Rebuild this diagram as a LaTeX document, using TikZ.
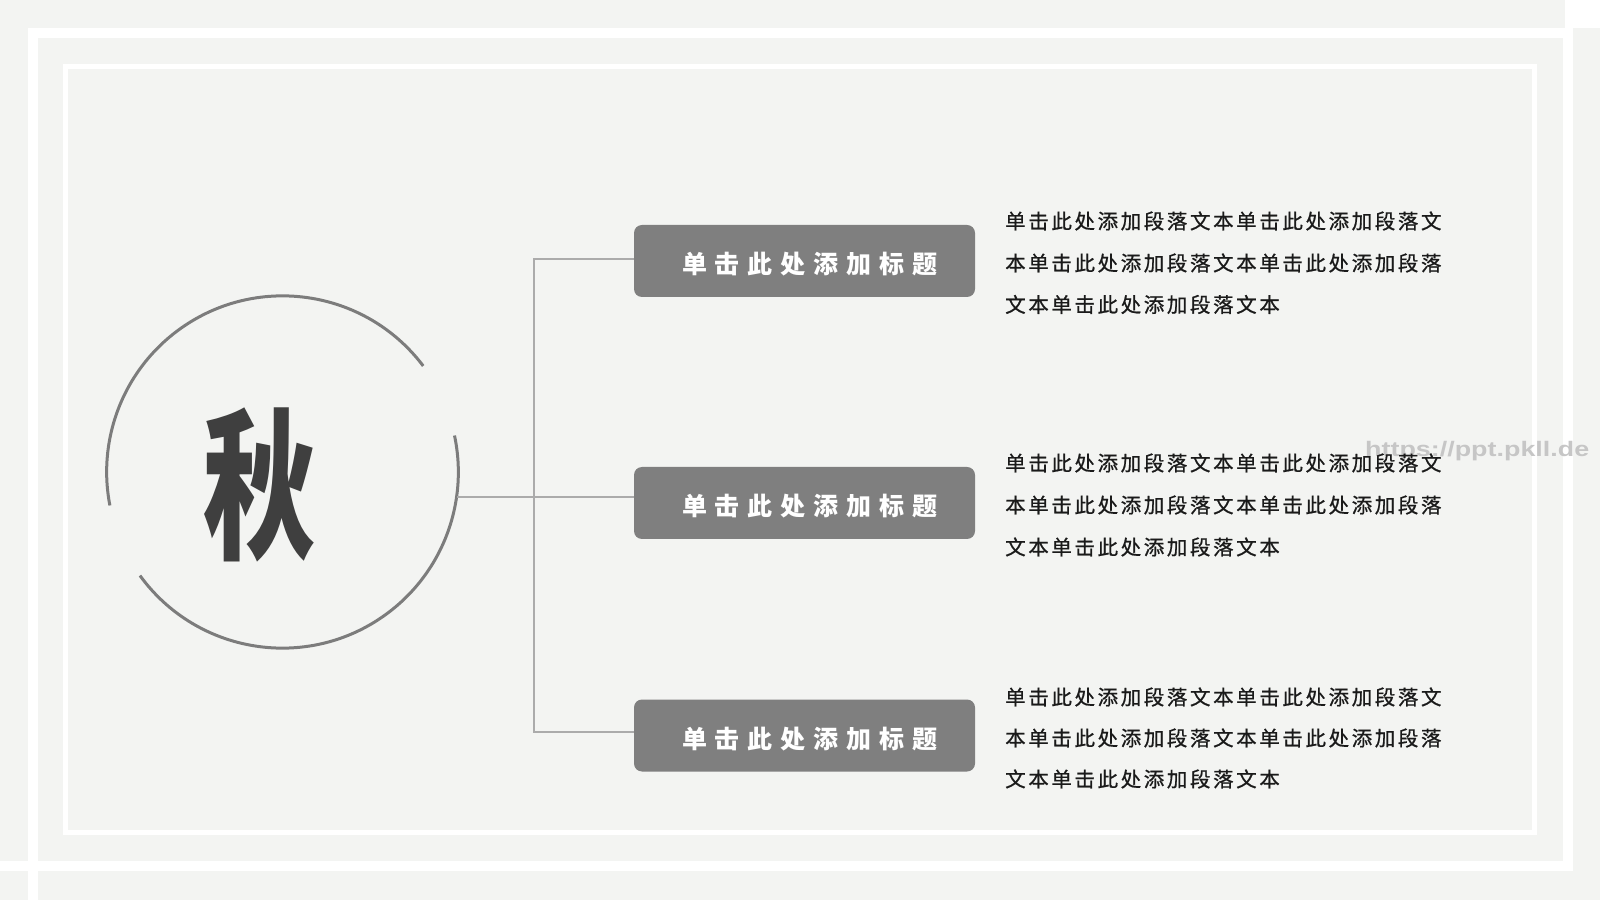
\documentclass[tikz,border=0pt]{standalone}
\usepackage{fontspec}
\usepackage{graphicx}
\newfontfamily\cjk{Noto Sans CJK SC}
\newfontfamily\cjkmed[FakeBold=0.8]{Noto Sans CJK SC}
\newfontfamily\wmfont{Liberation Sans}
\definecolor{bg}{HTML}{F3F4F2}
\definecolor{boxgray}{HTML}{7F7F7F}
\definecolor{ringgray}{HTML}{7C7C7C}
\definecolor{conngray}{HTML}{ABABAB}
\definecolor{glyphc}{HTML}{3F3F3F}
\definecolor{bodyc}{HTML}{1A1A1A}
\definecolor{wmc}{HTML}{C6C6C6}
\makeatletter
\newcommand\spacedtxt[2]{\@tfor\sp@c:=#2\do{\sp@c\hspace{#1}}\unskip}
\makeatother
\begin{document}
\begin{tikzpicture}[x=1pt,y=1pt,
  frameline/.style={draw=white,line width=10pt},
  innerframe/.style={draw=white,line width=5pt},
  ring/.style={draw=ringgray,line width=3pt},
  conn/.style={draw=conngray,line width=2pt},
  titlebox/.style={fill=boxgray,rounded corners=8pt,minimum width=341pt,minimum height=72pt,inner sep=0pt,text height=25pt,text depth=0pt,text=white,font=\cjk\bfseries\fontsize{25}{25}\selectfont},
  bodytext/.style={anchor=west,inner sep=0pt,text=bodyc,font=\cjkmed\fontsize{20.5}{20.5}\selectfont},
]
\useasboundingbox (0,0) rectangle (1600,900);
\fill[bg] (0,0) rectangle (1600,900);
% frames
\draw[frameline] (33,867) rectangle (1568,34.5);
\draw[frameline] (33,867) -- (33,0);
\draw[frameline] (1568,34.5) -- (0,34.5);
\fill[white] (1565,872) rectangle (1600,900);
\draw[innerframe] (65.5,833) rectangle (1534.5,68);
% watermark
\node[anchor=base west,inner sep=0pt,text=wmc,font=\wmfont\bfseries\fontsize{21}{21}\selectfont] (wm) at (1365,443) {\scalebox{1.28}[1]{https://ppt.pkll.de}};
% ring
\node[circle,minimum size=352pt,inner sep=0pt] (c) at (282.5,428) {};
\draw[ring] (c.37) arc[start angle=37,end angle=191,radius=176];
\draw[ring] (c.216) arc[start angle=216,end angle=372,radius=176];
\node[inner sep=0pt,text=glyphc,font=\cjk\bfseries\fontsize{163}{163}\selectfont] (qiu) at (260,415) {\scalebox{0.69}[1]{秋}};
% title boxes
\node[titlebox] (b1) at (804.5,639) {\hspace{11pt}\spacedtxt{8pt}{单击此处添加标题}};
\node[titlebox] (b2) at (804.5,397) {\hspace{11pt}\spacedtxt{8pt}{单击此处添加标题}};
\node[titlebox] (b3) at (804.5,164.5) {\hspace{11pt}\spacedtxt{8pt}{单击此处添加标题}};
% connectors
\coordinate (j) at (534,402.5);
\coordinate (t1) at ([yshift=2pt]b1.west);
\coordinate (t3) at ([yshift=3.8pt]b3.west);
\draw[conn] (c.-8.3) -- (c.-8.3 -| b2.west);
\draw[conn] (t1) -- (t1 -| j) -- (t3 -| j) -- (t3);
% body texts
\node[bodytext] (p1a) at (1005,679) {\spacedtxt{2.6pt}{单击此处添加段落文本单击此处添加段落文}};
\node[bodytext] (p1b) at (1005,637) {\spacedtxt{2.6pt}{本单击此处添加段落文本单击此处添加段落}};
\node[bodytext] (p1c) at (1005,595.5) {\spacedtxt{2.6pt}{文本单击此处添加段落文本}};
\node[bodytext] (p2a) at (1005,437) {\spacedtxt{2.6pt}{单击此处添加段落文本单击此处添加段落文}};
\node[bodytext] (p2b) at (1005,395) {\spacedtxt{2.6pt}{本单击此处添加段落文本单击此处添加段落}};
\node[bodytext] (p2c) at (1005,353) {\spacedtxt{2.6pt}{文本单击此处添加段落文本}};
\node[bodytext] (p3a) at (1005,203) {\spacedtxt{2.6pt}{单击此处添加段落文本单击此处添加段落文}};
\node[bodytext] (p3b) at (1005,162) {\spacedtxt{2.6pt}{本单击此处添加段落文本单击此处添加段落}};
\node[bodytext] (p3c) at (1005,121) {\spacedtxt{2.6pt}{文本单击此处添加段落文本}};
\end{tikzpicture}
\end{document}
